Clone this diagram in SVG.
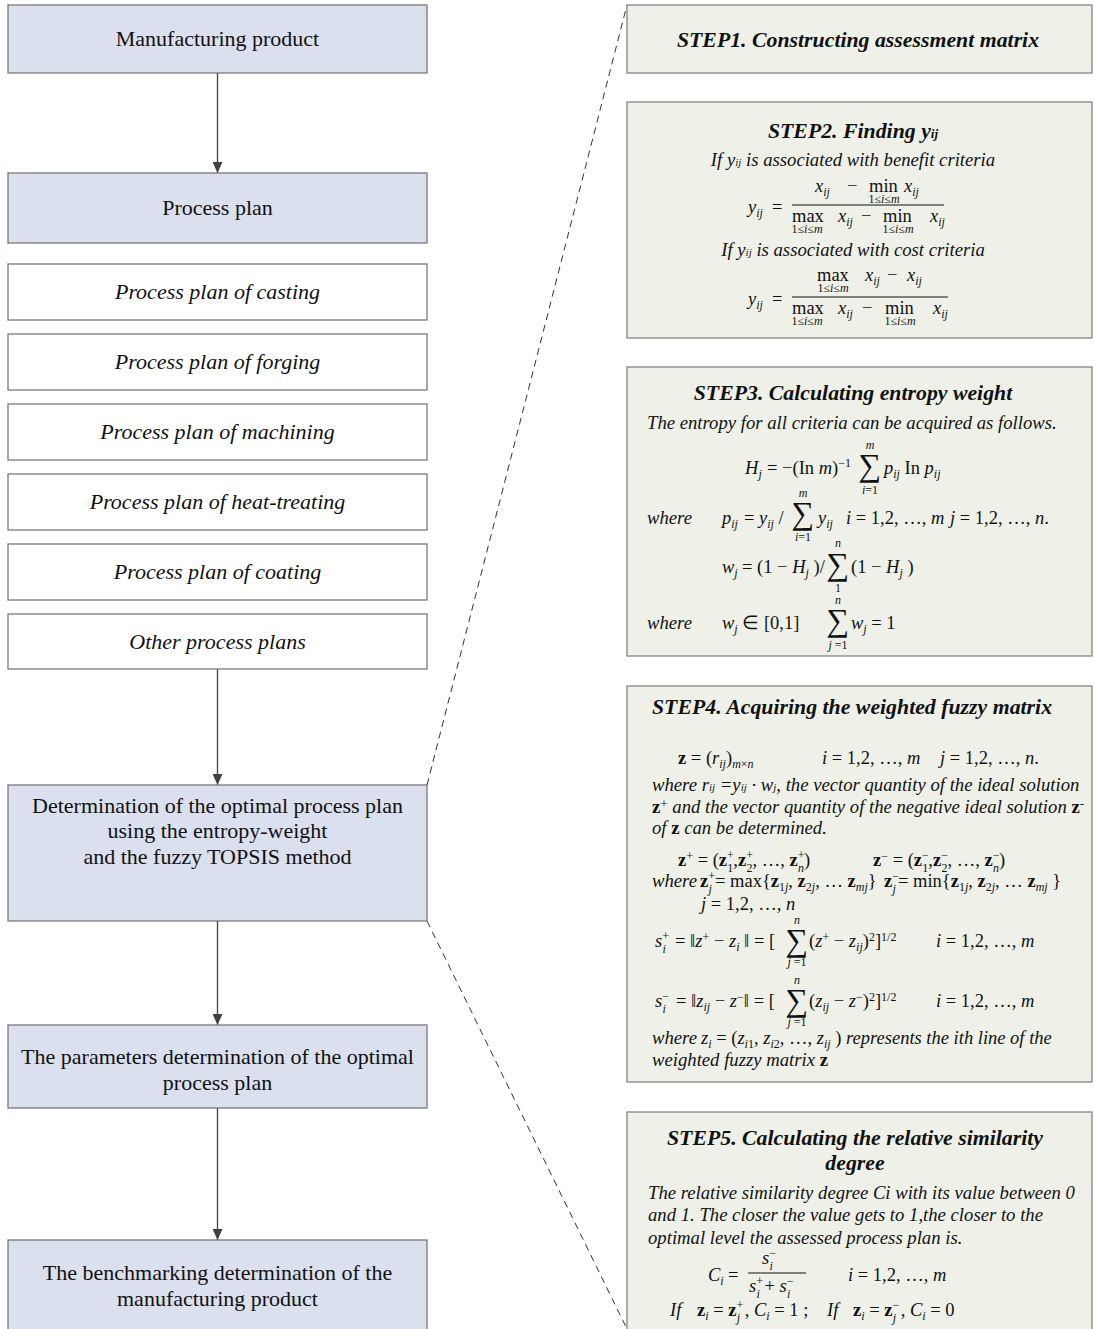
<svg xmlns="http://www.w3.org/2000/svg" width="1094" height="1329" viewBox="0 0 1094 1329">
<defs>
<style>
.lb{fill:#dbe0ee;stroke:#6e6e6e;stroke-width:1.2}
.wb{fill:#ffffff;stroke:#6e6e6e;stroke-width:1.2}
.rb{fill:#eff1e8;stroke:#7a7a7a;stroke-width:1.2}
.lt{font-family:"Liberation Serif","Times New Roman",serif;font-size:22px;fill:#111;text-anchor:middle}
.it{font-style:italic}
.h{font-family:"Liberation Serif","Times New Roman",serif;font-size:21.8px;font-weight:bold;font-style:italic;fill:#111;text-anchor:middle}
.bd{font-family:"Liberation Serif","Times New Roman",serif;font-size:18.7px;font-style:italic;fill:#111}
.m{font-family:"Liberation Serif","Times New Roman",serif;font-size:18.5px;fill:#111}
.v{font-style:italic}
.s{font-size:12px}
.bz{font-weight:bold;font-style:normal}
.sg{font-family:"Liberation Serif",serif;font-size:32px;fill:#111;text-anchor:middle}
.sm{font-family:"Liberation Serif","Times New Roman",serif;font-size:12px;fill:#111;text-anchor:middle}
.fl{stroke:#111;stroke-width:1}
.con{stroke:#404040;stroke-width:1.3;fill:none}
.dash{stroke:#333;stroke-width:1;stroke-dasharray:7,5;fill:none}
</style>
<marker id="ah" markerWidth="11" markerHeight="10" refX="11" refY="5" orient="auto" markerUnits="userSpaceOnUse"><path d="M0,0 L11,5 L0,10 z" fill="#404040"/></marker>
</defs>
<rect width="1094" height="1329" fill="#ffffff"/>

<g id="connectors">
<line class="con" x1="217.5" y1="73" x2="217.5" y2="173" marker-end="url(#ah)"/>
<line class="con" x1="217.5" y1="669" x2="217.5" y2="785" marker-end="url(#ah)"/>
<line class="con" x1="217.5" y1="921" x2="217.5" y2="1025" marker-end="url(#ah)"/>
<line class="con" x1="217.5" y1="1108" x2="217.5" y2="1240" marker-end="url(#ah)"/>
<line class="dash" x1="427" y1="785" x2="627" y2="5"/>
<line class="dash" x1="427" y1="921" x2="627" y2="1329"/>
</g>

<g id="manufacturing-product"><rect class="lb" x="8" y="5" width="419" height="68"/><text class="lt" x="217.5" y="46">Manufacturing product</text></g>
<g id="process-plan"><rect class="lb" x="8" y="173" width="419" height="70"/><text class="lt" x="217.5" y="215">Process plan</text></g>
<g id="pp-casting"><rect class="wb" x="8" y="264" width="419" height="56"/><text class="lt it" x="217.5" y="299">Process plan of casting</text></g>
<g id="pp-forging"><rect class="wb" x="8" y="334" width="419" height="56"/><text class="lt it" x="217.5" y="369">Process plan of forging</text></g>
<g id="pp-machining"><rect class="wb" x="8" y="404" width="419" height="56"/><text class="lt it" x="217.5" y="439">Process plan of machining</text></g>
<g id="pp-heat"><rect class="wb" x="8" y="474" width="419" height="56"/><text class="lt it" x="217.5" y="509">Process plan of heat-treating</text></g>
<g id="pp-coating"><rect class="wb" x="8" y="544" width="419" height="56"/><text class="lt it" x="217.5" y="579">Process plan of coating</text></g>
<g id="pp-other"><rect class="wb" x="8" y="614" width="419" height="55"/><text class="lt it" x="217.5" y="649">Other process plans</text></g>
<g id="determination"><rect class="lb" x="8" y="785" width="419" height="136"/>
<text class="lt" x="217.5" y="813">Determination of the optimal process plan</text>
<text class="lt" x="217.5" y="838">using the entropy-weight</text>
<text class="lt" x="217.5" y="864">and the fuzzy TOPSIS method</text></g>
<g id="parameters"><rect class="lb" x="8" y="1025" width="419" height="83"/>
<text class="lt" x="217.5" y="1064">The  parameters determination of the optimal</text>
<text class="lt" x="217.5" y="1090">process plan</text></g>
<g id="benchmarking"><rect class="lb" x="8" y="1240" width="419" height="100"/>
<text class="lt" x="217.5" y="1280">The benchmarking determination of the</text>
<text class="lt" x="217.5" y="1306">manufacturing product</text></g>

<g id="step1"><rect class="rb" x="627" y="5" width="465" height="68"/>
<text class="h" x="858" y="47">STEP1. Constructing assessment matrix</text></g>

<g id="step2"><rect class="rb" x="627" y="102" width="465" height="236"/>
<text class="h" x="853" y="138">STEP2. Finding y<tspan font-size="13">ij</tspan></text>
<text class="bd" x="853" y="166" text-anchor="middle">If y<tspan font-size="11">ij</tspan> is associated with benefit criteria</text>
<text class="m" y="213"><tspan x="748" class="v">y</tspan><tspan class="v s" dy="4">ij</tspan><tspan dy="-4" x="772">=</tspan></text>
<text class="m" y="192"><tspan x="815" class="v">x</tspan><tspan class="v s" dy="4">ij</tspan><tspan dy="-4" x="847">−</tspan><tspan x="869">min</tspan><tspan x="904" class="v">x</tspan><tspan class="v s" dy="4">ij</tspan></text>
<text class="sm" x="884" y="203">1≤<tspan font-style="italic">i</tspan>≤<tspan font-style="italic">m</tspan></text>
<line class="fl" x1="792" y1="205" x2="944" y2="205"/>
<text class="m" y="222"><tspan x="792">max</tspan><tspan x="838" class="v">x</tspan><tspan class="v s" dy="4">ij</tspan><tspan dy="-4" x="861">−</tspan><tspan x="883">min</tspan><tspan x="930" class="v">x</tspan><tspan class="v s" dy="4">ij</tspan></text>
<text class="sm" x="807" y="233">1≤<tspan font-style="italic">i</tspan>≤<tspan font-style="italic">m</tspan></text>
<text class="sm" x="898" y="233">1≤<tspan font-style="italic">i</tspan>≤<tspan font-style="italic">m</tspan></text>
<text class="bd" x="853" y="256" text-anchor="middle">If y<tspan font-size="11">ij</tspan> is associated with cost criteria</text>
<text class="m" y="305"><tspan x="748" class="v">y</tspan><tspan class="v s" dy="4">ij</tspan><tspan dy="-4" x="772">=</tspan></text>
<text class="m" y="281"><tspan x="817">max</tspan><tspan x="865" class="v">x</tspan><tspan class="v s" dy="4">ij</tspan><tspan dy="-4" x="887">−</tspan><tspan x="907" class="v">x</tspan><tspan class="v s" dy="4">ij</tspan></text>
<text class="sm" x="833" y="292">1≤<tspan font-style="italic">i</tspan>≤<tspan font-style="italic">m</tspan></text>
<line class="fl" x1="792" y1="297" x2="948" y2="297"/>
<text class="m" y="314"><tspan x="792">max</tspan><tspan x="838" class="v">x</tspan><tspan class="v s" dy="4">ij</tspan><tspan dy="-4" x="862">−</tspan><tspan x="885">min</tspan><tspan x="933" class="v">x</tspan><tspan class="v s" dy="4">ij</tspan></text>
<text class="sm" x="807" y="325">1≤<tspan font-style="italic">i</tspan>≤<tspan font-style="italic">m</tspan></text>
<text class="sm" x="900" y="325">1≤<tspan font-style="italic">i</tspan>≤<tspan font-style="italic">m</tspan></text>
</g>

<g id="step3"><rect class="rb" x="627" y="367" width="465" height="289"/>
<text class="h" x="853" y="400">STEP3. Calculating entropy weight</text>
<text class="bd" x="647" y="429">The entropy for all criteria can be acquired as follows.</text>
<text class="m" y="474"><tspan x="745" class="v">H</tspan><tspan class="v s" dy="4">j</tspan><tspan dy="-4" x="767">= −(In </tspan><tspan class="v">m</tspan><tspan>)</tspan><tspan class="s" dy="-7">−1</tspan></text>
<text class="sg" x="870" y="476">∑</text>
<text class="sm" x="870" y="449" font-style="italic">m</text>
<text class="sm" x="870" y="494"><tspan font-style="italic">i</tspan>=1</text>
<text class="m" y="474"><tspan x="884" class="v">p</tspan><tspan class="v s" dy="4">ij</tspan><tspan dy="-4"> In </tspan><tspan class="v">p</tspan><tspan class="v s" dy="4">ij</tspan></text>

<text class="bd" x="647" y="524">where</text>
<text class="m" y="524"><tspan x="722" class="v">p</tspan><tspan class="v s" dy="4">ij</tspan><tspan dy="-4" x="744">= </tspan><tspan class="v">y</tspan><tspan class="v s" dy="4">ij</tspan><tspan dy="-4"> /</tspan></text>
<text class="sg" x="803" y="524">∑</text>
<text class="sm" x="803" y="497" font-style="italic">m</text>
<text class="sm" x="803" y="541"><tspan font-style="italic">i</tspan>=1</text>
<text class="m" y="524"><tspan x="818" class="v">y</tspan><tspan class="v s" dy="4">ij</tspan><tspan dy="-4" x="846" class="v">i</tspan><tspan> = 1,2, …, </tspan><tspan class="v">m</tspan><tspan x="950" class="v">j</tspan><tspan> = 1,2, …, </tspan><tspan class="v">n</tspan><tspan>.</tspan></text>

<text class="m" y="573"><tspan x="722" class="v">w</tspan><tspan class="v s" dy="4">j</tspan><tspan dy="-4" x="742">= (1 − </tspan><tspan class="v">H</tspan><tspan class="v s" dy="4">j</tspan><tspan dy="-4"> )/</tspan></text>
<text class="sg" x="838" y="575">∑</text>
<text class="sm" x="838" y="547" font-style="italic">n</text>
<text class="sm" x="838" y="592">1</text>
<text class="m" y="573"><tspan x="851">(1 − </tspan><tspan class="v">H</tspan><tspan class="v s" dy="4">j</tspan><tspan dy="-4"> )</tspan></text>

<text class="bd" x="647" y="629">where</text>
<text class="m" y="629"><tspan x="722" class="v">w</tspan><tspan class="v s" dy="4">j</tspan><tspan dy="-4"> ∈ [0,1]</tspan></text>
<text class="sg" x="838" y="631">∑</text>
<text class="sm" x="838" y="604" font-style="italic">n</text>
<text class="sm" x="838" y="649"><tspan font-style="italic">j</tspan> =1</text>
<text class="m" y="629"><tspan x="851" class="v">w</tspan><tspan class="v s" dy="4">j</tspan><tspan dy="-4"> = 1</tspan></text>
</g>

<g id="step4"><rect class="rb" x="627" y="686" width="465" height="396"/>
<text class="h" x="852" y="714">STEP4. Acquiring the weighted fuzzy matrix</text>
<text class="m" y="764"><tspan x="678" class="bz">z</tspan><tspan> = (</tspan><tspan class="v">r</tspan><tspan class="v s" dy="4">ij</tspan><tspan dy="-4">)</tspan><tspan class="s v" dy="4">m</tspan><tspan class="s">×</tspan><tspan class="s v">n</tspan><tspan dy="-4" x="822" class="v">i</tspan><tspan> = 1,2, …, </tspan><tspan class="v">m</tspan><tspan x="940" class="v">j</tspan><tspan> = 1,2, …, </tspan><tspan class="v">n</tspan><tspan>.</tspan></text>
<text class="bd" x="652" y="791">where r<tspan font-size="11">ij</tspan> =y<tspan font-size="11">ij</tspan> ·  w<tspan font-size="11">j</tspan>, the vector quantity of the ideal solution</text>
<text class="bd" x="652" y="813"><tspan class="bz">z</tspan><tspan font-style="normal" font-size="13" dy="-5">+</tspan><tspan dy="5"> and the vector quantity of the negative ideal solution </tspan><tspan class="bz">z</tspan><tspan font-style="normal" font-size="13" dy="-5">-</tspan></text>
<text class="bd" x="652" y="834">of <tspan class="bz">z</tspan> can be determined.</text>
<text class="m" y="866"><tspan x="678" class="bz">z</tspan><tspan class="s" dy="-6">+</tspan><tspan dy="6"> = (</tspan><tspan class="bz">z</tspan><tspan class="s" dy="-7.5">+</tspan><tspan class="s" dx="-6.5" dy="13.5">1</tspan><tspan dy="-6">,</tspan><tspan class="bz">z</tspan><tspan class="s" dy="-7.5">+</tspan><tspan class="s" dx="-6.5" dy="13.5">2</tspan><tspan dy="-6">, …, </tspan><tspan class="bz">z</tspan><tspan class="s" dy="-7.5">+</tspan><tspan class="s v" dx="-6.5" dy="13.5">n</tspan><tspan dy="-6">)</tspan><tspan x="873" class="bz">z</tspan><tspan class="s" dy="-6">−</tspan><tspan dy="6"> = (</tspan><tspan class="bz">z</tspan><tspan class="s" dy="-7.5">−</tspan><tspan class="s" dx="-6.5" dy="13.5">1</tspan><tspan dy="-6">,</tspan><tspan class="bz">z</tspan><tspan class="s" dy="-7.5">−</tspan><tspan class="s" dx="-6.5" dy="13.5">2</tspan><tspan dy="-6">, …, </tspan><tspan class="bz">z</tspan><tspan class="s" dy="-7.5">−</tspan><tspan class="s v" dx="-6.5" dy="13.5">n</tspan><tspan dy="-6">)</tspan></text>
<text class="bd" x="652" y="887">where</text>
<text class="m" y="887"><tspan x="700" class="bz">z</tspan><tspan class="s" dy="-7.5">+</tspan><tspan class="s v" dx="-6.5" dy="13.5">j</tspan><tspan dy="-6" x="715">= max{</tspan><tspan class="bz">z</tspan><tspan class="s" dy="4">1</tspan><tspan class="s v">j</tspan><tspan dy="-4">, </tspan><tspan class="bz">z</tspan><tspan class="s" dy="4">2</tspan><tspan class="s v">j</tspan><tspan dy="-4">, … </tspan><tspan class="bz">z</tspan><tspan class="s v" dy="4">mj</tspan><tspan dy="-4">}</tspan><tspan x="884" class="bz">z</tspan><tspan class="s" dy="-7.5">−</tspan><tspan class="s v" dx="-6.5" dy="13.5">j</tspan><tspan dy="-6" x="898">= min{</tspan><tspan class="bz">z</tspan><tspan class="s" dy="4">1</tspan><tspan class="s v">j</tspan><tspan dy="-4">, </tspan><tspan class="bz">z</tspan><tspan class="s" dy="4">2</tspan><tspan class="s v">j</tspan><tspan dy="-4">, … </tspan><tspan class="bz">z</tspan><tspan class="s v" dy="4">mj</tspan><tspan dy="-4"> }</tspan></text>
<text class="m" y="910"><tspan x="701" class="v">j</tspan><tspan> = 1,2, …, </tspan><tspan class="v">n</tspan></text>

<text class="m" y="947"><tspan x="655" class="v">s</tspan><tspan class="s" dy="-7.5">+</tspan><tspan class="s v" dx="-6.5" dy="13.5">i</tspan><tspan dy="-6" x="675">= ‖</tspan><tspan class="v">z</tspan><tspan class="s" dy="-6">+</tspan><tspan dy="6"> − </tspan><tspan class="v">z</tspan><tspan class="s v" dy="4">i</tspan><tspan dy="-4"> ‖ = [</tspan></text>
<text class="sg" x="797" y="951">∑</text>
<text class="sm" x="797" y="924" font-style="italic">n</text>
<text class="sm" x="797" y="966"><tspan font-style="italic">j</tspan> =1</text>
<text class="m" y="947"><tspan x="809">(</tspan><tspan class="v">z</tspan><tspan class="s" dy="-6">+</tspan><tspan dy="6"> − </tspan><tspan class="v">z</tspan><tspan class="s v" dy="4">ij</tspan><tspan dy="-4">)</tspan><tspan class="s" dy="-6">2</tspan><tspan dy="6">]</tspan><tspan class="s" dy="-6">1/2</tspan><tspan dy="6" x="936" class="v">i</tspan><tspan> = 1,2, …, </tspan><tspan class="v">m</tspan></text>

<text class="m" y="1007"><tspan x="655" class="v">s</tspan><tspan class="s" dy="-7.5">−</tspan><tspan class="s v" dx="-6.5" dy="13.5">i</tspan><tspan dy="-6" x="676">= ‖</tspan><tspan class="v">z</tspan><tspan class="s v" dy="4">ij</tspan><tspan dy="-4"> − </tspan><tspan class="v">z</tspan><tspan class="s" dy="-6">−</tspan><tspan dy="6">‖ = [</tspan></text>
<text class="sg" x="797" y="1011">∑</text>
<text class="sm" x="797" y="984" font-style="italic">n</text>
<text class="sm" x="797" y="1026"><tspan font-style="italic">j</tspan> =1</text>
<text class="m" y="1007"><tspan x="809">(</tspan><tspan class="v">z</tspan><tspan class="s v" dy="4">ij</tspan><tspan dy="-4"> − </tspan><tspan class="v">z</tspan><tspan class="s" dy="-6">−</tspan><tspan dy="6">)</tspan><tspan class="s" dy="-6">2</tspan><tspan dy="6">]</tspan><tspan class="s" dy="-6">1/2</tspan><tspan dy="6" x="936" class="v">i</tspan><tspan> = 1,2, …, </tspan><tspan class="v">m</tspan></text>

<text class="bd" x="652" y="1044">where</text>
<text class="m" y="1044"><tspan x="701" class="v">z</tspan><tspan class="s v" dy="4">i</tspan><tspan dy="-4"> = (</tspan><tspan class="v">z</tspan><tspan class="s v" dy="4">i</tspan><tspan class="s">1</tspan><tspan dy="-4">, </tspan><tspan class="v">z</tspan><tspan class="s v" dy="4">i</tspan><tspan class="s">2</tspan><tspan dy="-4">, …, </tspan><tspan class="v">z</tspan><tspan class="s v" dy="4">ij</tspan><tspan dy="-4"> )</tspan><tspan class="v"> represents the ith line of the</tspan></text>
<text class="bd" x="652" y="1066">weighted fuzzy matrix <tspan class="bz">z</tspan></text>
</g>

<g id="step5"><rect class="rb" x="627" y="1112" width="465" height="230"/>
<text class="h" x="855" y="1145">STEP5. Calculating the relative similarity</text>
<text class="h" x="855" y="1170">degree</text>
<text class="bd" x="648" y="1199">The relative similarity degree Ci with its value between 0</text>
<text class="bd" x="648" y="1221">and 1. The closer the value gets to 1,the closer to the</text>
<text class="bd" x="648" y="1244">optimal level the assessed process plan is.</text>
<text class="m" y="1281"><tspan x="708" class="v">C</tspan><tspan class="v s" dy="4">i</tspan><tspan dy="-4" x="728">=</tspan></text>
<text class="m" y="1264"><tspan x="762" class="v">s</tspan><tspan class="s" dy="-7.5">−</tspan><tspan class="s v" dx="-6.5" dy="13.5">i</tspan></text>
<line class="fl" x1="748" y1="1273" x2="806" y2="1273"/>
<text class="m" y="1292"><tspan x="749" class="v">s</tspan><tspan class="s" dy="-7.5">+</tspan><tspan class="s v" dx="-6.5" dy="13.5">i</tspan><tspan dy="-6"> + </tspan><tspan class="v">s</tspan><tspan class="s" dy="-7.5">−</tspan><tspan class="s v" dx="-6.5" dy="13.5">i</tspan></text>
<text class="m" y="1281"><tspan x="848" class="v">i</tspan><tspan> = 1,2, …, </tspan><tspan class="v">m</tspan></text>
<text class="m" y="1316"><tspan x="670" class="v">If</tspan><tspan x="697" class="bz">z</tspan><tspan class="s v" dy="4">i</tspan><tspan dy="-4"> = </tspan><tspan class="bz">z</tspan><tspan class="s" dy="-7.5">+</tspan><tspan class="s v" dx="-6.5" dy="13.5">j</tspan><tspan dy="-6"> , </tspan><tspan class="v">C</tspan><tspan class="s v" dy="4">i</tspan><tspan dy="-4"> = 1  ; </tspan><tspan x="827" class="v">If</tspan><tspan x="853" class="bz">z</tspan><tspan class="s v" dy="4">i</tspan><tspan dy="-4"> = </tspan><tspan class="bz">z</tspan><tspan class="s" dy="-7.5">−</tspan><tspan class="s v" dx="-6.5" dy="13.5">j</tspan><tspan dy="-6"> ,  </tspan><tspan class="v">C</tspan><tspan class="s v" dy="4">i</tspan><tspan dy="-4"> = 0</tspan></text>
</g>
</svg>
